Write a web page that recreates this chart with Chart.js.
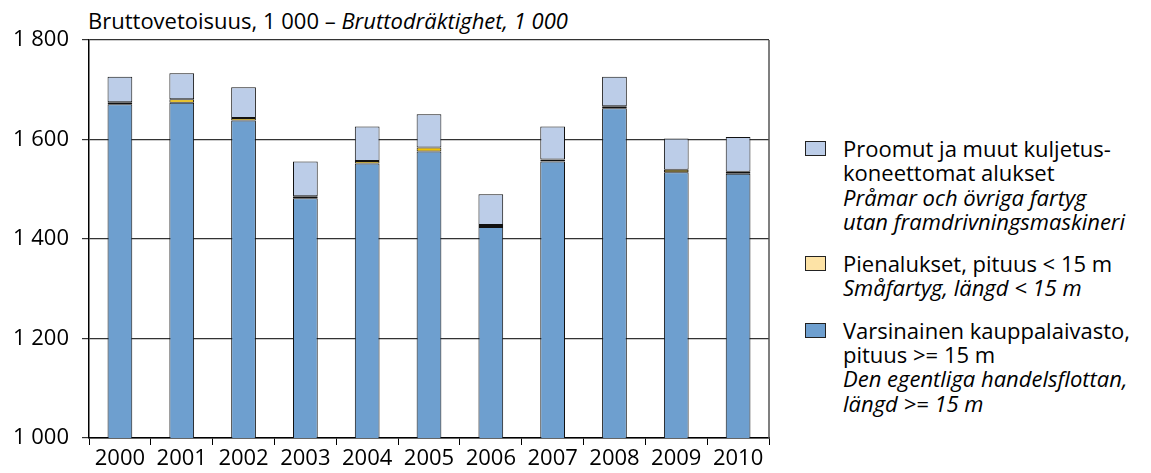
<!DOCTYPE html>
<html>
<head>
<meta charset="utf-8">
<script src="https://cdn.jsdelivr.net/npm/chart.js@4"></script>
<style>
  body { margin: 0; background: #fff; font-family: "Open Sans", sans-serif; color: #000; }
  #wrap { position: relative; width: 1151px; height: 473px; overflow: hidden; }
  #chartBox { position: absolute; left: 0; top: 0; width: 780px; height: 473px; }
  #titulo { position: absolute; left: 88px; top: 5px; font-size: 22px; white-space: nowrap; }
  #leyenda { position: absolute; left: 805px; top: 136px; font-size: 22px; line-height: 24.3px; }
  .item { position: relative; padding-left: 38px; margin-bottom: 18px; }
  .caja { position: absolute; left: 0; top: 5px; width: 19px; height: 13px; border: 1px solid #222; }
  i { font-style: italic; }
</style>
</head>
<body>
<div id="wrap">
  <div id="titulo">Bruttovetoisuus, 1 000 – <i>Bruttodräktighet, 1 000</i></div>
  <div id="chartBox"><canvas id="grafico"></canvas></div>
  <div id="leyenda"></div>
</div>
<script>
// Datos (1 000 bruttovetoisuus)
const vuodet = ['2000', '2001', '2002', '2003', '2004', '2005', '2006', '2007', '2008', '2009', '2010'];
const kauppalaivasto = [1671, 1674, 1638, 1482, 1552, 1576, 1424, 1556, 1663, 1534, 1531];
const pienalukset    = [4, 7, 5, 4, 5, 8, 4, 4, 4, 5, 4];
const proomut        = [51, 52, 62, 70, 69, 67, 62, 66, 59, 63, 70];
const yTicks = [1000, 1200, 1400, 1600, 1800];

const colores = {
    proomut: '#bccde8',
    pien: '#f2c200',
    pienLeyenda: '#fde3a6',
    kauppa: '#6e9fcf'
};

// Leyenda en HTML (varias líneas, parte en cursiva)
const leyendaItems = [
    { color: colores.proomut, fi: 'Proomut ja muut kuljetus-<br>koneettomat alukset', sv: 'Pråmar och övriga fartyg<br>utan framdrivningsmaskineri' },
    { color: colores.pienLeyenda, fi: 'Pienalukset, pituus &lt; 15 m', sv: 'Småfartyg, längd &lt; 15 m' },
    { color: colores.kauppa, fi: 'Varsinainen kauppalaivasto,<br>pituus &gt;= 15 m', sv: 'Den egentliga handelsflottan,<br>längd &gt;= 15 m' }
];
document.getElementById('leyenda').innerHTML = leyendaItems.map(it => `
    <div class="item"><span class="caja" style="background:${it.color}"></span>${it.fi}<br><i>${it.sv}</i></div>
`).join('');

// Borde derecho del área del gráfico
const bordeDerecho = {
    id: 'bordeDerecho',
    afterDraw(chart) {
        const { ctx, chartArea } = chart;
        ctx.save();
        ctx.strokeStyle = '#555';
        ctx.lineWidth = 1.5;
        ctx.beginPath();
        ctx.moveTo(chartArea.right, chartArea.top);
        ctx.lineTo(chartArea.right, chartArea.bottom);
        ctx.stroke();
        ctx.restore();
    }
};

const crearDataset = (label, data, color) => ({
    label: label,
    data: data,
    backgroundColor: color,
    borderColor: '#111',
    borderWidth: 1,
    borderSkipped: false,
    barPercentage: 0.4,
    categoryPercentage: 1.0
});

new Chart(document.getElementById('grafico'), {
    type: 'bar',
    data: {
        labels: vuodet,
        datasets: [
            crearDataset('Varsinainen kauppalaivasto', kauppalaivasto, colores.kauppa),
            crearDataset('Pienalukset', pienalukset, colores.pien),
            crearDataset('Proomut', proomut, colores.proomut)
        ]
    },
    options: {
        responsive: true,
        maintainAspectRatio: false,
        animation: false,
        layout: { padding: { top: 40, right: 11, left: 0, bottom: 0 } },
        plugins: { legend: { display: false }, tooltip: { enabled: false } },
        scales: {
            x: {
                stacked: true,
                grid: { drawOnChartArea: false, offset: true, tickLength: 7, color: '#000' },
                border: { color: '#000', width: 1.5 },
                ticks: { color: '#000', padding: 1, font: { family: 'Open Sans', size: 22 } },
                afterFit: s => { s.height = 35; }
            },
            y: {
                stacked: true,
                min: 1000,
                max: 1800,
                afterBuildTicks: s => { s.ticks = yTicks.map(v => ({ value: v })); },
                grid: { color: '#333', lineWidth: 1.2, tickLength: 7 },
                border: { color: '#000', width: 1.5 },
                ticks: {
                    color: '#000',
                    padding: 13,
                    font: { family: 'Open Sans', size: 22 },
                    callback: v => v.toString().replace(/\B(?=(\d{3})+(?!\d))/g, ' ')
                },
                afterFit: s => { s.width = 89; }
            }
        }
    },
    plugins: [bordeDerecho]
});
</script>
</body>
</html>
